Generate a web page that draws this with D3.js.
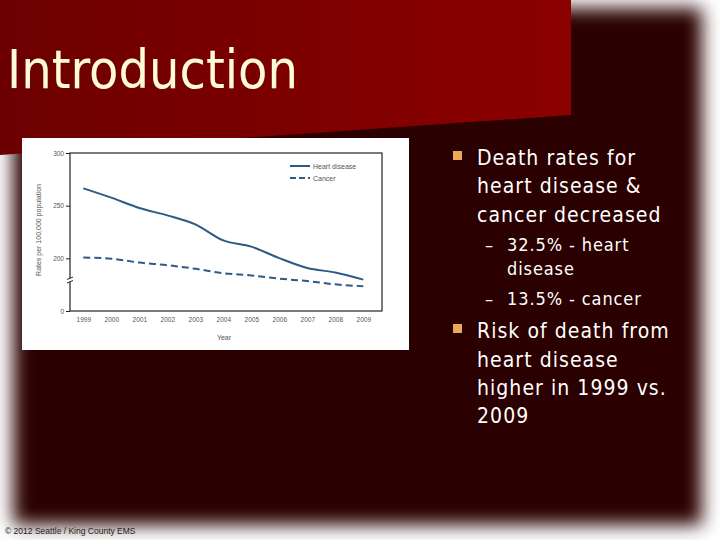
<!DOCTYPE html>
<html><head><meta charset="utf-8">
<script src="https://cdn.jsdelivr.net/npm/d3@7"></script>
<style>html,body{margin:0;padding:0;background:#fff;}svg{display:block;}</style>
</head><body>
<script>
// ---- data ----
const years = [1999,2000,2001,2002,2003,2004,2005,2006,2007,2008,2009];
const heartDisease = [266.5,257.6,247.8,240.8,232.3,217.0,211.1,200.2,190.9,186.5,179.8];
const cancer = [200.8,199.6,196.0,193.5,190.1,185.8,183.8,180.7,178.4,175.3,173.5];
const yTickValues = [150,200,250,300];
const yTickLabels = ["0","200","250","300"]; // axis is broken below 200
const seriesNames = ["Heart disease","Cancer"];
const titleText = "Introduction";
const footerText = "\u00A9 2012 Seattle / King County EMS";

const W = 720, H = 540;
const svg = d3.select("body").append("svg").attr("width",W).attr("height",H);
const defs = svg.append("defs");
defs.append("filter").attr("id","blur").attr("x","-10%").attr("y","-10%").attr("width","120%").attr("height","120%")
  .append("feGaussianBlur").attr("stdDeviation",9);
const grad = defs.append("linearGradient").attr("id","banner").attr("x1","0").attr("x2","1").attr("y1","0").attr("y2","0");
grad.append("stop").attr("offset","0").attr("stop-color","#6c0000");
grad.append("stop").attr("offset","1").attr("stop-color","#8c0000");

// slide background
svg.append("rect").attr("width",W).attr("height",H).attr("fill","#ffffff");
svg.append("rect").attr("x",13).attr("y",8).attr("width",689).attr("height",517)
  .attr("fill","#2b0101").attr("filter","url(#blur)");

// title banner
svg.append("path").attr("d","M0,0 L571,0 L571,115 L0,155 Z").attr("fill","url(#banner)");
svg.append("text").attr("x",7).attr("y",88).text(titleText)
  .attr("font-family","'DejaVu Sans Condensed','DejaVu Sans',sans-serif")
  .attr("font-size",54).attr("fill","#fffbd8")
  .attr("textLength",291).attr("lengthAdjust","spacingAndGlyphs");

// chart image box
svg.append("rect").attr("x",22).attr("y",138).attr("width",387).attr("height",212).attr("fill","#ffffff");

const plot = {l:70, r:382, t:153, b:311};
const x = d3.scalePoint().domain(years).range([83.3,363.3]);
const y = d3.scaleLinear().domain([150,300]).range([plot.b, plot.t]);
const g = svg.append("g");
const axisFont = "'Liberation Sans',Arial,sans-serif";

// frame
g.append("rect").attr("x",plot.l).attr("y",plot.t).attr("width",plot.r-plot.l).attr("height",plot.b-plot.t)
  .attr("fill","none").attr("stroke","#222").attr("stroke-width",1.2);

const ya = g.append("g").attr("transform",`translate(${plot.l},0)`)
  .call(d3.axisLeft(y).tickValues(yTickValues).tickFormat((d,i)=>yTickLabels[i]).tickSize(4).tickPadding(2));
ya.select(".domain").remove();
ya.selectAll("line").attr("stroke","#222");
ya.selectAll("text").attr("font-family",axisFont).attr("font-size",6.5).attr("fill","#555");

const xa = g.append("g").attr("transform",`translate(0,${plot.b})`)
  .call(d3.axisBottom(x).tickSize(0).tickPadding(6));
xa.select(".domain").remove();
xa.selectAll("text").attr("font-family",axisFont).attr("font-size",6.5).attr("fill","#555");

// axis break
g.append("rect").attr("x",plot.l-2).attr("y",278).attr("width",4).attr("height",4).attr("fill","#fff");
g.append("path").attr("d",`M${plot.l-3},279.5 L${plot.l+3},277 M${plot.l-3},283 L${plot.l+3},280.5`)
  .attr("stroke","#222").attr("stroke-width",1).attr("fill","none");

// titles
g.append("text").attr("transform","translate(41,230) rotate(-90)").attr("text-anchor","middle")
  .attr("font-family",axisFont).attr("font-size",7).attr("fill","#555").text("Rates per 100,000 population");
g.append("text").attr("x",224).attr("y",340).attr("text-anchor","middle")
  .attr("font-family",axisFont).attr("font-size",7).attr("fill","#555").text("Year");

// lines
const lineColor = "#2d5b86";
const line = d3.line().x((d,i)=>x(years[i])).y(d=>y(d)).curve(d3.curveMonotoneX);
g.append("path").datum(heartDisease).attr("d",line).attr("fill","none").attr("stroke",lineColor).attr("stroke-width",2);
g.append("path").datum(cancer).attr("d",line).attr("fill","none").attr("stroke",lineColor).attr("stroke-width",2).attr("stroke-dasharray","7,4");

// legend
const lg = g.append("g");
seriesNames.forEach((n,i)=>{
  const yy = 166 + i*12;
  lg.append("line").attr("x1",290).attr("x2",310).attr("y1",yy).attr("y2",yy)
    .attr("stroke",lineColor).attr("stroke-width",2).attr("stroke-dasharray", i===1 ? "6,3" : null);
  lg.append("text").attr("x",313).attr("y",yy+2.5).attr("font-family",axisFont).attr("font-size",7)
    .attr("fill","#555").text(n);
});

// bullets
const bodyFont = "'DejaVu Sans Condensed','DejaVu Sans',sans-serif";
const bullets = [
  {t:"Death rates for", x:477, y:165, s:21, b:true},
  {t:"heart disease &", x:477, y:193, s:21},
  {t:"cancer decreased", x:477, y:222, s:21},
  {t:"\u2013", x:485, y:251, s:18},
  {t:"32.5% - heart", x:507, y:251, s:18},
  {t:"disease", x:507, y:275, s:18},
  {t:"\u2013", x:485, y:305, s:18},
  {t:"13.5% - cancer", x:507, y:305, s:18},
  {t:"Risk of death from", x:477, y:338, s:21, b:true},
  {t:"heart disease", x:477, y:367, s:21},
  {t:"higher in 1999 vs.", x:477, y:395, s:21},
  {t:"2009", x:477, y:423, s:21}
];
bullets.forEach(d=>{
  svg.append("text").attr("x",d.x).attr("y",d.y).attr("font-family",bodyFont).attr("font-size",d.s)
    .attr("letter-spacing", d.s===21 ? 1.05 : 0.9)
    .attr("fill","#ffffff").text(d.t);
  if (d.b) svg.append("rect").attr("x",453).attr("y",d.y-14).attr("width",9).attr("height",9).attr("fill","#e9a85a");
});

// footer
svg.append("text").attr("x",5).attr("y",534).attr("font-family",axisFont).attr("font-size",8.5)
  .attr("fill","#222").text(footerText);
</script>
</body></html>
